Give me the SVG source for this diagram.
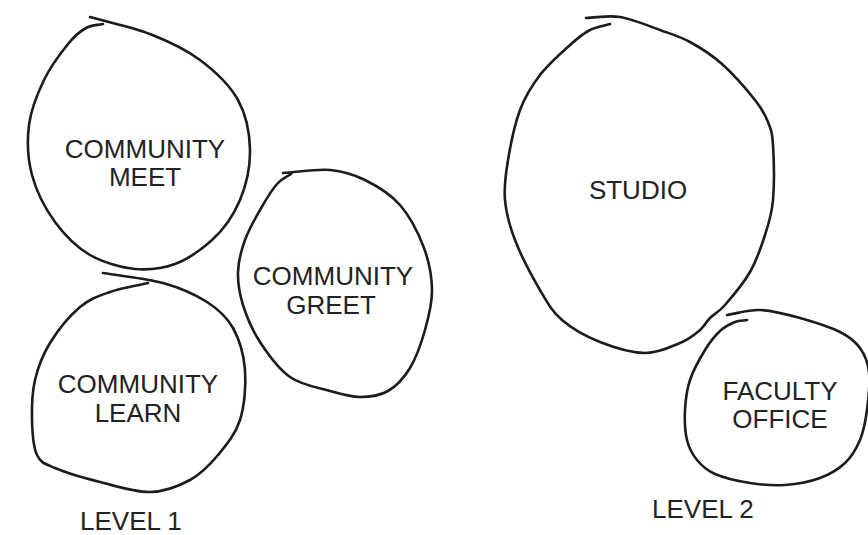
<svg xmlns="http://www.w3.org/2000/svg" width="868" height="535" viewBox="0 0 868 535">
<style>
.bubble{fill:none;stroke:#1c1c1c;stroke-width:2.6;stroke-linecap:round;stroke-linejoin:round}
.lbl{font-family:"Liberation Sans",Arial,sans-serif;font-size:26px;fill:#222;text-anchor:middle}
.lvl{font-family:"Liberation Sans",Arial,sans-serif;font-size:26px;fill:#222}
</style>
<rect width="868" height="535" fill="#fff"/>
<g id="community-meet">
<path class="bubble" d="M90,17 C110,22.7 131.7,26.8 150,34 S185.3,49 200,60 S229.7,85 238,100 S249.7,133.3 250,150 S246.3,185 240,200 S223.7,229.5 212,240 S186,260 175,264 S148,270 135,269 S102.5,262.3 90,255 S64.7,235.3 55,222 S36.3,191.2 32,175 S27,140.8 29,125 S37.5,93.5 44,80 S61,52.7 68,44 S80.2,31.3 86,28 S97.3,25.3 103,24"/>
<text class="lbl" x="145" y="158">COMMUNITY</text>
<text class="lbl" x="145" y="186">MEET</text>
</g>
<g id="community-learn">
<path class="bubble" d="M103,273 C123,276.3 145.7,278.2 163,283 S195.3,294.5 207,302 S226.7,316.7 233,328 S243.8,354.7 245,370 S244.5,405.8 240,420 S226.3,445 218,455 S201.3,473.8 190,480 S165,491.7 150,492 S115.8,486 100,482 S65.5,472.5 55,468 S40.8,463 37,455 S32.3,432.5 32,420 S32,392.8 35,380 S42.5,355.2 50,343 S70,315.5 80,307 S98.7,296 110,292 S135.3,286 148,283"/>
<text class="lbl" x="138" y="393">COMMUNITY</text>
<text class="lbl" x="138" y="422">LEARN</text>
</g>
<g id="community-greet">
<path class="bubble" d="M283,173 C298.7,172 316.3,168.8 330,170 S353.3,174.2 365,180 S390.2,193.7 400,205 S418.7,233.8 424,248 S431.8,276.3 432,290 S428.7,317 425,330 S416.2,357.8 410,368 S396.3,386.2 388,391 S369.7,397 360,397 S341.7,394.3 330,391 S301.7,385.2 290,377 S267.8,354 260,342 S246.7,316.7 243,305 S237.7,282.8 238,272 S241.3,250.3 245,240 S254.7,219.3 260,210 S271.8,190 277,184 S286.3,177.3 291,174"/>
<text class="lbl" x="333" y="285">COMMUNITY</text>
<text class="lbl" x="331" y="314">GREET</text>
</g>
<g id="studio">
<path class="bubble" d="M586,18 C597.3,17.7 607.7,15 620,17 S648.3,25.8 660,30 S679.7,36.3 690,42 S711.2,54.3 722,64 S747.3,90.3 755,100 S765,114.5 768,122 S772.2,132 773,145 S774.3,185 773,200 S768.8,223 765,235 S756.7,260.3 750,272 S731.7,297.3 725,305 S714.2,313.8 710,318 S705,325.8 700,330 S689.2,339.2 680,343 S658.3,353.2 645,353 S613.8,347.5 600,342 S572,328.7 562,320 S547.8,303.3 540,290 S520.8,255 515,240 S506.2,213.3 505,200 S505.5,175 508,160 S514.7,124.2 520,110 S531.7,85.8 540,75 S561.7,52.5 570,45 S583.3,33.5 590,30 S603.3,26 610,24"/>
<text class="lbl" x="638" y="199">STUDIO</text>
</g>
<g id="faculty-office">
<path class="bubble" d="M727,315 C738,313.3 747.8,309.5 760,310 S786.7,314.3 800,318 S830,327 840,332 S855.2,341.3 860,348 S867.8,361.7 869,372 S868.5,398.7 867,410 S863.7,431.2 860,440 S851.7,456.7 845,463 S830,474.3 820,478 S796.7,484.2 785,485 S761.7,484.8 750,483 S723.8,477.8 715,474 S701.7,465.7 697,460 S689,448.3 687,440 S684.5,420 685,410 S686.7,390 690,380 S700,358.2 705,350 S715,335.7 720,331 S730.5,323.8 735,322 S743,320.7 747,320"/>
<text class="lbl" x="780" y="400">FACULTY</text>
<text class="lbl" x="780" y="428">OFFICE</text>
</g>
<g id="level-labels">
<text class="lvl" x="80" y="530">LEVEL 1</text>
<text class="lvl" x="652" y="518">LEVEL 2</text>
</g>
<g id="connectors"></g>
</svg>
